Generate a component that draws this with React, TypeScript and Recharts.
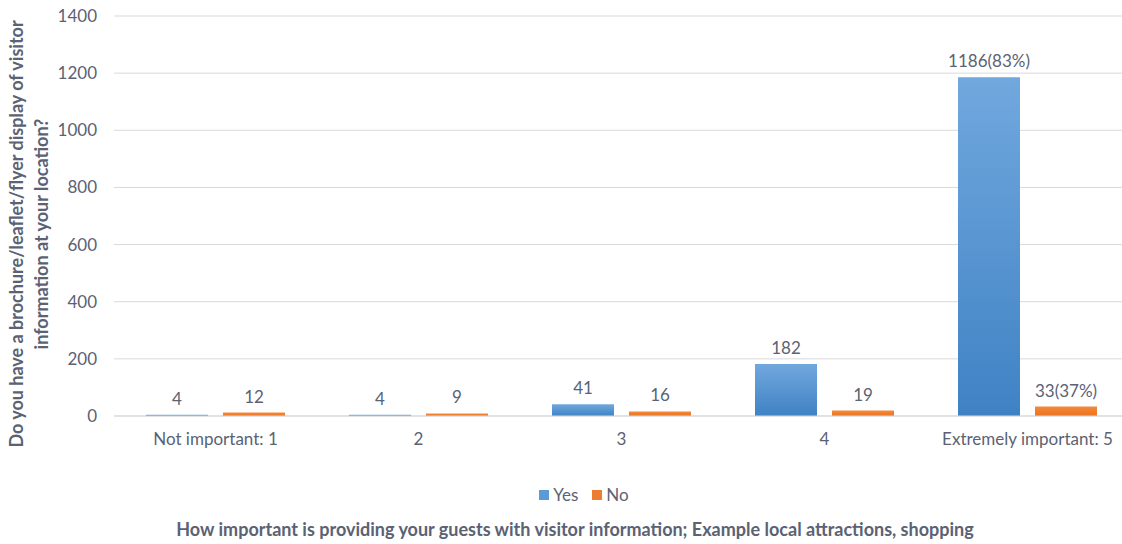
import { BarChart, Bar, XAxis, YAxis, CartesianGrid, LabelList } from 'recharts';

const categories = ['Not important: 1', '2', '3', '4', 'Extremely important: 5'];
const yesValues = [4, 4, 41, 182, 1186];
const noValues = [12, 9, 16, 19, 33];
const yesLabels = ['4', '4', '41', '182', '1186(83%)'];
const noLabels = ['12', '9', '16', '19', '33(37%)'];
const yTicks = [0, 200, 400, 600, 800, 1000, 1200, 1400];

const data = categories.map((name, i) => ({
  name,
  yes: yesValues[i],
  no: noValues[i],
  yesLabel: yesLabels[i],
  noLabel: noLabels[i],
}));

const FONT = 'Lato, "Open Sans", sans-serif';
const TEXT = '#5a6274';

export default function App() {
  return (
    <div style={{ position: 'absolute', left: 0, top: 0, width: 1122, height: 544, overflow: 'hidden', background: '#fff', fontFamily: FONT }}>
      <BarChart
        width={1129}
        height={544}
        data={data}
        margin={{ top: 16, right: 0, bottom: 98, left: 0 }}
        barGap={15}
        barSize={62}
      >
        <defs>
          <linearGradient id="gYes" x1="0" y1="0" x2="0" y2="1">
            <stop offset="0%" stopColor="#71a8de" />
            <stop offset="100%" stopColor="#3f82c4" />
          </linearGradient>
          <linearGradient id="gNo" x1="0" y1="0" x2="0" y2="1">
            <stop offset="0%" stopColor="#f48a3c" />
            <stop offset="100%" stopColor="#e8731f" />
          </linearGradient>
        </defs>
        <CartesianGrid vertical={false} stroke="#d9d9d9" />
        <XAxis
          dataKey="name"
          axisLine={{ stroke: '#d9d9d9' }}
          tickLine={false}
          tickMargin={11}
          height={30}
          tick={{ fill: TEXT, fontSize: 17, fontFamily: FONT }}
        />
        <YAxis
          domain={[0, 1400]}
          ticks={yTicks}
          width={114}
          axisLine={false}
          tickLine={false}
          tickMargin={11}
          tick={{ fill: TEXT, fontSize: 17, fontFamily: FONT }}
        />
        <Bar dataKey="yes" fill="url(#gYes)" isAnimationActive={false}>
          <LabelList dataKey="yesLabel" position="top" offset={10} fill={TEXT} fontSize={17} fontFamily={FONT} />
        </Bar>
        <Bar dataKey="no" fill="url(#gNo)" isAnimationActive={false}>
          <LabelList dataKey="noLabel" position="top" offset={10} fill={TEXT} fontSize={17} fontFamily={FONT} />
        </Bar>
      </BarChart>

      <div style={{ position: 'absolute', left: 0, top: 484, width: 1168, display: 'flex', justifyContent: 'center', gap: 14, fontSize: 17, color: TEXT }}>
        <span style={{ display: 'flex', alignItems: 'center', gap: 4 }}>
          <span style={{ width: 10, height: 10, background: '#5b9bd5', display: 'inline-block' }} />Yes
        </span>
        <span style={{ display: 'flex', alignItems: 'center', gap: 4 }}>
          <span style={{ width: 10, height: 10, background: '#ed7d31', display: 'inline-block' }} />No
        </span>
      </div>

      <div style={{ position: 'absolute', left: 0, top: 518, width: 1150, textAlign: 'center', fontSize: 18, fontWeight: 700, color: TEXT }}>
        How important is providing your guests with visitor information; Example local attractions, shopping
      </div>

      <div
        style={{
          position: 'absolute',
          left: 29,
          top: 234,
          width: 460,
          transform: 'translate(-50%, -50%) rotate(-90deg)',
          textAlign: 'center',
          fontSize: 18,
          fontWeight: 700,
          lineHeight: '25px',
          color: TEXT,
        }}
      >
        Do you have a brochure/leaflet/flyer display of visitor information at your location?
      </div>
    </div>
  );
}
